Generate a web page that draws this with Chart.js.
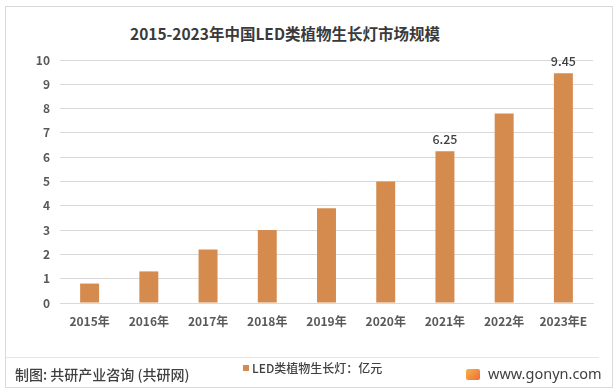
<!DOCTYPE html>
<html>
<head>
<meta charset="utf-8">
<script src="https://cdn.jsdelivr.net/npm/chart.js@4"></script>
<style>
  body { margin: 0; background: #fff; }
  #wrap { position: relative; width: 616px; height: 392px; overflow: hidden; font-family: "Noto Sans CJK SC", "Noto Sans", sans-serif; color: #404040; }
  #frame { position: absolute; left: 5px; top: 6px; width: 606px; height: 380px; border: 1px solid #d9d9d9; }
  #sep { position: absolute; left: 6px; top: 357px; width: 593px; height: 1px; background: #e6e6e6; }
  #title { position: absolute; left: 0; top: 20px; width: 570px; text-align: center; font-size: 15.5px; font-weight: bold; color: #3a3a3a; line-height: 26px; }
  #chart-box { position: absolute; left: 0; top: 0; width: 616px; height: 392px; }
  #source { position: absolute; left: 15px; top: 364px; font-size: 14px; line-height: 20px; font-weight: 500; }
  #legend { position: absolute; left: 243px; top: 359px; font-size: 12px; line-height: 18px; font-weight: 500; }
  #legend i { display: inline-block; width: 6px; height: 6px; margin-right: 3px; vertical-align: 2px; }
  #site { position: absolute; left: 466px; top: 363px; font-size: 14.5px; line-height: 20px; font-family: "Noto Sans", sans-serif; }
  #site b { display: inline-block; width: 14px; height: 11px; margin-right: 8px; vertical-align: -1px; border-radius: 2px;
            background: linear-gradient(135deg, #f7b545, #ee6a3a); }
</style>
</head>
<body>
<div id="wrap">
  <div id="frame"></div>
  <div id="sep"></div>
  <div id="title">2015-2023年中国LED类植物生长灯市场规模</div>
  <div id="chart-box"><canvas id="led-chart" width="616" height="392"></canvas></div>
  <div id="source">制图: 共研产业咨询 (共研网)</div>
  <div id="legend"><i></i><span id="legend-text"></span></div>
  <div id="site"><b></b>www.gonyn.com</div>
</div>
<script>
// LED grow light market size, 100 million yuan
const years = ['2015年', '2016年', '2017年', '2018年', '2019年', '2020年', '2021年', '2022年', '2023年E'];
const marketSize = [0.8, 1.3, 2.2, 3.0, 3.9, 5.0, 6.25, 7.8, 9.45];
const valueLabels = ['', '', '', '', '', '', '6.25', '', '9.45'];
const yTicks = [0, 1, 2, 3, 4, 5, 6, 7, 8, 9, 10];
const seriesName = 'LED类植物生长灯：亿元';

const barColor = '#d48b4d';
const gridColor = '#d9d9d9';

document.getElementById('legend-text').textContent = seriesName;
document.querySelector('#legend i').style.background = barColor;

// Draw the few value labels shown above bars
const valueLabelPlugin = {
  id: 'valueLabels',
  afterDatasetsDraw(chart) {
    const ctx = chart.ctx;
    const meta = chart.getDatasetMeta(0);
    ctx.save();
    ctx.font = '500 12.5px "Noto Sans CJK SC", "Noto Sans", sans-serif';
    ctx.fillStyle = '#404040';
    ctx.textAlign = 'center';
    ctx.textBaseline = 'bottom';
    meta.data.forEach((bar, i) => {
      if (valueLabels[i]) ctx.fillText(valueLabels[i], bar.x, bar.y - 6);
    });
    ctx.restore();
  }
};

new Chart(document.getElementById('led-chart'), {
  type: 'bar',
  data: {
    labels: years,
    datasets: [{
      label: seriesName,
      data: marketSize,
      backgroundColor: barColor,
      barPercentage: 0.32,
      categoryPercentage: 1.0
    }]
  },
  options: {
    responsive: false,
    animation: false,
    layout: { padding: { left: 0, top: 60, right: 23, bottom: 59 } },
    plugins: {
      legend: { display: false },
      tooltip: { enabled: false }
    },
    scales: {
      x: {
        grid: { display: false, drawTicks: false },
        border: { color: gridColor },
        ticks: {
          padding: 11,
          color: '#595959',
          font: { family: '"Noto Sans CJK SC", sans-serif', size: 12, weight: 'bold' },
          maxRotation: 0
        },
        afterFit(scale) { scale.height = 30; }
      },
      y: {
        min: 0,
        max: 10,
        afterBuildTicks(scale) { scale.ticks = yTicks.map(v => ({ value: v })); },
        grid: { color: gridColor, drawTicks: false },
        border: { display: false },
        ticks: {
          padding: 10,
          color: '#595959',
          font: { family: '"Noto Sans CJK SC", sans-serif', size: 12, weight: 'bold' }
        },
        afterFit(scale) { scale.width = 60; }
      }
    }
  },
  plugins: [valueLabelPlugin]
});
</script>
</body>
</html>
